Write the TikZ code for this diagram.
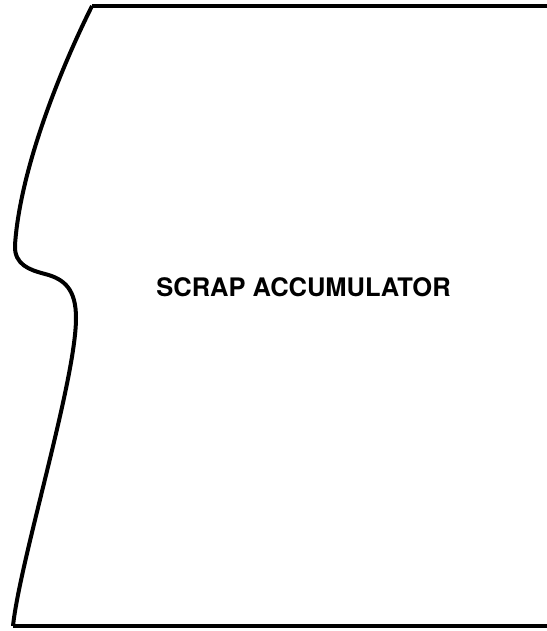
\documentclass[tikz,border=0pt]{standalone}
\usepackage{fontspec}
\setmainfont{TeX Gyre Heros}
\begin{document}
\begin{tikzpicture}[x=1pt,y=-1pt,
  outline/.style={line width=4pt,line join=round,line cap=butt},
  edge/.style={line width=4.5pt,line cap=butt},
  label/.style={font=\bfseries\fontsize{25.5}{28}\selectfont,inner sep=0pt,anchor=base}]
\useasboundingbox (0,0) rectangle (546,631);
\coordinate (tl) at (92,6);
\coordinate (tr) at (548,6);
\coordinate (bl) at (13,626);
\coordinate (br) at (548,626);
\coordinate (nip) at (15,245);
\coordinate (mid) at (45,274);
\coordinate (bulge) at (76,318);
\draw[edge] (tr) -- (tl);
\draw[outline] (tl) .. controls (60,70) and (20,170) .. (nip)
  .. controls (14,265) and (30,270) .. (mid)
  .. controls (65,279) and (76,290) .. (bulge)
  .. controls (76,380) and (20,560) .. (bl);
\draw[edge] (bl) -- (br);
\node[label] (title) at (303.5,296) {SCRAP ACCUMULATOR};
\end{tikzpicture}
\end{document}
